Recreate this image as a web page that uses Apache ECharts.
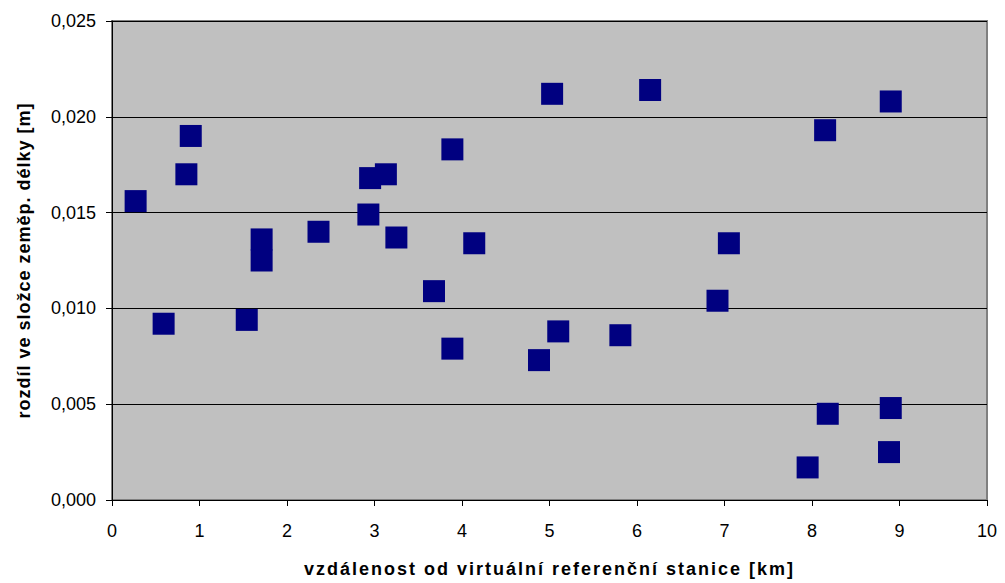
<!DOCTYPE html>
<html>
<head>
<meta charset="utf-8">
<script src="https://cdn.jsdelivr.net/npm/echarts@6/dist/echarts.min.js"></script>
<style>html,body{margin:0;padding:0;background:#fff;}#c{width:1005px;height:583px;}</style>
</head>
<body>
<div id="c"></div>
<script>
const xValues = [0.27, 0.59, 0.85, 0.90, 1.54, 1.71, 1.71, 2.36, 2.93, 2.95, 3.13, 3.25, 3.68, 3.89, 3.89, 4.14,
                 4.88, 5.03, 5.10, 5.81, 6.15, 6.92, 7.05, 7.95, 8.15, 8.18, 8.88, 8.90, 8.90];
const yValues = [0.0156, 0.0092, 0.0170, 0.0190, 0.0094, 0.0136, 0.0125, 0.0140, 0.0149, 0.0168, 0.0170, 0.0137, 0.0109, 0.0183, 0.0079, 0.0134,
                 0.0073, 0.0212, 0.0088, 0.0086, 0.0214, 0.0104, 0.0134, 0.0017, 0.0193, 0.0045, 0.0025, 0.0048, 0.0208];
const xTickLabels = ['0','1','2','3','4','5','6','7','8','9','10'];
const yTickLabels = ['0,000','0,005','0,010','0,015','0,020','0,025'];
const xTitle = 'vzdálenost od virtuální referenční stanice [km]';
const yTitle = 'rozdíl ve složce zeměp. délky [m]';

const points = xValues.map((x, i) => [x, yValues[i]]);
const chart = echarts.init(document.getElementById('c'), null, {renderer: 'svg'});
const font = 'Liberation Sans, Arial, sans-serif';
chart.setOption({
  animation: false,
  backgroundColor: '#ffffff',
  grid: {left: 112, right: 18, top: 21, bottom: 82, show: true, backgroundColor: '#c0c0c0', borderColor: '#808080', borderWidth: 2},
  xAxis: {
    type: 'value', min: 0, max: 10, interval: 1,
    name: xTitle, nameLocation: 'middle', nameGap: 60,
    nameTextStyle: {fontFamily: font, fontSize: 18, fontWeight: 'bold', color: '#000'},
    axisLine: {show: true, onZero: false, lineStyle: {color: '#000', width: 1}},
    axisTick: {show: true, inside: false, length: 6, lineStyle: {color: '#000'}},
    axisLabel: {fontFamily: font, fontSize: 18, color: '#000', margin: 22,
      formatter: v => xTickLabels[Math.round(v)]},
    splitLine: {show: false}
  },
  yAxis: {
    type: 'value', min: 0, max: 0.025, interval: 0.005,
    name: yTitle, nameLocation: 'middle', nameGap: 79, nameRotate: 90,
    nameTextStyle: {fontFamily: font, fontSize: 18, fontWeight: 'bold', color: '#000'},
    axisLine: {show: true, onZero: false, lineStyle: {color: '#000', width: 1}},
    axisTick: {show: true, inside: false, length: 6, lineStyle: {color: '#000'}},
    axisLabel: {fontFamily: font, fontSize: 18, color: '#000', margin: 16,
      formatter: v => yTickLabels[Math.round(v / 0.005)]},
    splitLine: {show: true, lineStyle: {color: '#000', width: 1}}
  },
  series: [{
    type: 'scatter',
    data: points,
    symbol: 'rect',
    symbolSize: 22,
    itemStyle: {color: '#000080', opacity: 1},
    emphasis: {disabled: true}
  }]
});
// widen title letter spacing to match the reference rendering
document.querySelectorAll('#c text').forEach(t => {
  if (t.textContent === xTitle) t.setAttribute('letter-spacing', '2');
  if (t.textContent === yTitle) t.setAttribute('letter-spacing', '1');
});
</script>
</body>
</html>
